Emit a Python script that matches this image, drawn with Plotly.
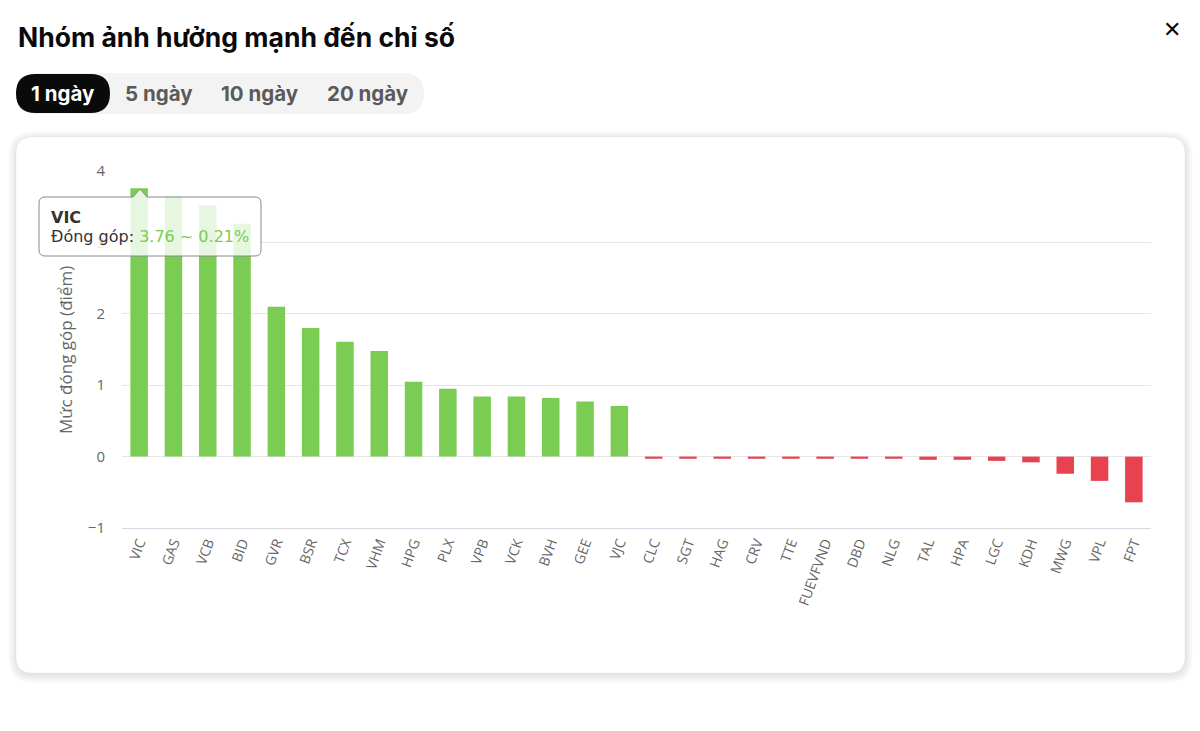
import plotly.graph_objects as go

# ---------------- data ----------------
tickers = ["VIC", "GAS", "VCB", "BID", "GVR", "BSR", "TCX", "VHM", "HPG", "PLX",
           "VPB", "VCK", "BVH", "GEE", "VJC", "CLC", "SGT", "HAG", "CRV", "TTE",
           "FUEVFVND", "DBD", "NLG", "TAL", "HPA", "LGC", "KDH", "MWG", "VPL", "FPT"]
contrib = [3.76, 3.64, 3.52, 3.26, 2.10, 1.80, 1.61, 1.48, 1.05, 0.95,
           0.84, 0.84, 0.82, 0.77, 0.71, -0.03, -0.03, -0.03, -0.03, -0.03,
           -0.03, -0.03, -0.03, -0.045, -0.045, -0.06, -0.08, -0.24, -0.34, -0.64]
tab_labels = ["1 ngày", "5 ngày", "10 ngày", "20 ngày"]
title_text = "Nhóm ảnh hưởng mạnh đến chỉ số"
yaxis_title = "Mức đóng góp (điểm)"
tooltip_ticker = "VIC"
tooltip_value = 3.76
tooltip_pct = 0.21

GREEN = "#7acc52"
RED = "#e8414f"

W, H = 1200, 731
L, R, T, B = 122, 49, 171, 203
PW, PH = W - L - R, H - T - B


def px(x):
    return (x - L) / PW


def py(y):
    return 1 - (y - T) / PH


def rrect(x0, y0, x1, y1, r):
    pts = (f"M {px(x0 + r)} {py(y0)} L {px(x1 - r)} {py(y0)} "
           f"Q {px(x1)} {py(y0)} {px(x1)} {py(y0 + r)} "
           f"L {px(x1)} {py(y1 - r)} Q {px(x1)} {py(y1)} {px(x1 - r)} {py(y1)} "
           f"L {px(x0 + r)} {py(y1)} Q {px(x0)} {py(y1)} {px(x0)} {py(y1 - r)} "
           f"L {px(x0)} {py(y0 + r)} Q {px(x0)} {py(y0)} {px(x0 + r)} {py(y0)} Z")
    return pts


colors = [GREEN if v >= 0 else RED for v in contrib]

fig = go.Figure(go.Bar(x=tickers, y=contrib, marker_color=colors,
                       marker_line_width=0, hoverinfo="skip"))

shapes = []
# card shadow
for i in range(8, 0, -1):
    shapes.append(dict(type="path", xref="paper", yref="paper", layer="below",
                       path=rrect(16 - i, 137 - i + 2, 1185 + i, 673 + i + 2, 16 + i),
                       fillcolor="rgba(0,0,0,0.012)", line_width=0))
shapes.append(dict(type="path", xref="paper", yref="paper", layer="below",
                   path=rrect(16, 137, 1185, 673, 16),
                   fillcolor="white", line=dict(color="rgba(0,0,0,0.04)", width=1)))
# tab bar
shapes.append(dict(type="path", xref="paper", yref="paper", layer="below",
                   path=rrect(16, 73, 424, 114, 20.5),
                   fillcolor="#f3f3f3", line_width=0))
shapes.append(dict(type="path", xref="paper", yref="paper", layer="below",
                   path=rrect(16, 74, 110, 113, 19.5),
                   fillcolor="#0a0a0a", line_width=0))

# tooltip box with pointer
tx0, ty0, tx1, ty1, rr = 39, 197, 261, 256, 6
ax, ay = 140, 189
tip = (f"M {px(tx0 + rr)} {py(ty0)} L {px(ax - 7)} {py(ty0)} L {px(ax)} {py(ay)} "
       f"L {px(ax + 7)} {py(ty0)} L {px(tx1 - rr)} {py(ty0)} "
       f"Q {px(tx1)} {py(ty0)} {px(tx1)} {py(ty0 + rr)} "
       f"L {px(tx1)} {py(ty1 - rr)} Q {px(tx1)} {py(ty1)} {px(tx1 - rr)} {py(ty1)} "
       f"L {px(tx0 + rr)} {py(ty1)} Q {px(tx0)} {py(ty1)} {px(tx0)} {py(ty1 - rr)} "
       f"L {px(tx0)} {py(ty0 + rr)} Q {px(tx0)} {py(ty0)} {px(tx0 + rr)} {py(ty0)} Z")
shapes.append(dict(type="path", xref="paper", yref="paper", layer="above",
                   path=tip, fillcolor="rgba(255,255,255,0.82)",
                   line=dict(color="#8a8a8a", width=1)))

annotations = [
    dict(text=f"<b>{title_text}</b>", x=px(16), y=py(37), xref="paper", yref="paper",
         xanchor="left", yanchor="middle", showarrow=False,
         font=dict(family="Inter, Roboto, sans-serif", size=26.5, color="#0a0a0a")),
    dict(text="<b>✕</b>", x=px(1172), y=py(29), xref="paper", yref="paper",
         xanchor="center", yanchor="middle", showarrow=False,
         font=dict(family="DejaVu Sans, sans-serif", size=22, color="#0a0a0a")),
    dict(text=yaxis_title, x=px(65), y=py(350), xref="paper", yref="paper",
         xanchor="center", yanchor="middle", textangle=-90, showarrow=False,
         font=dict(family="Open Sans, sans-serif", size=17, color="#666666")),
    dict(text=f"<b>{tooltip_ticker}</b>", x=px(49), y=py(217), xref="paper", yref="paper",
         xanchor="left", yanchor="middle", showarrow=False,
         font=dict(family="DejaVu Sans, sans-serif", size=16, color="#333333")),
    dict(text=(f"Đóng góp: <span style='color:{GREEN}'>{tooltip_value:.2f} ~ "
               f"{tooltip_pct:.2f}%</span>"),
         x=px(49), y=py(236), xref="paper", yref="paper",
         xanchor="left", yanchor="middle", showarrow=False,
         font=dict(family="DejaVu Sans, sans-serif", size=16, color="#333333")),
]
tab_x = [63, 159, 260, 368]
for i, (lab, cx) in enumerate(zip(tab_labels, tab_x)):
    annotations.append(dict(text=f"<b>{lab}</b>", x=px(cx), y=py(94), xref="paper", yref="paper",
                            xanchor="center", yanchor="middle", showarrow=False,
                            font=dict(family="Inter, Roboto, sans-serif", size=20.5,
                                      color="white" if i == 0 else "#5a5a5a")))

fig.update_layout(
    width=W, height=H,
    margin=dict(l=L, r=R, t=T, b=B, autoexpand=False),
    paper_bgcolor="white", plot_bgcolor="rgba(0,0,0,0)",
    bargap=0.49, showlegend=False,
    shapes=shapes, annotations=annotations,
    xaxis=dict(showgrid=False, tickangle=-70, showline=True, linecolor="#d5d8e0", linewidth=1,
               ticks="", tickfont=dict(family="Open Sans, sans-serif", size=14, color="#666666"),
               fixedrange=True, zeroline=False, automargin=False),
    yaxis=dict(range=[-1, 4], dtick=1, showgrid=True, gridcolor="#e6e6e6", gridwidth=1,
               zeroline=True, zerolinecolor="#e6e6e6", zerolinewidth=1,
               tickfont=dict(family="Open Sans, sans-serif", size=15, color="#666666"),
               ticks="", ticklabelstandoff=16, automargin=False, fixedrange=True,
               tickformat="d"),
)

fig.write_html("out.html", config={"displayModeBar": False},
               post_script="document.body.style.margin='0';document.body.style.overflow='hidden';")
